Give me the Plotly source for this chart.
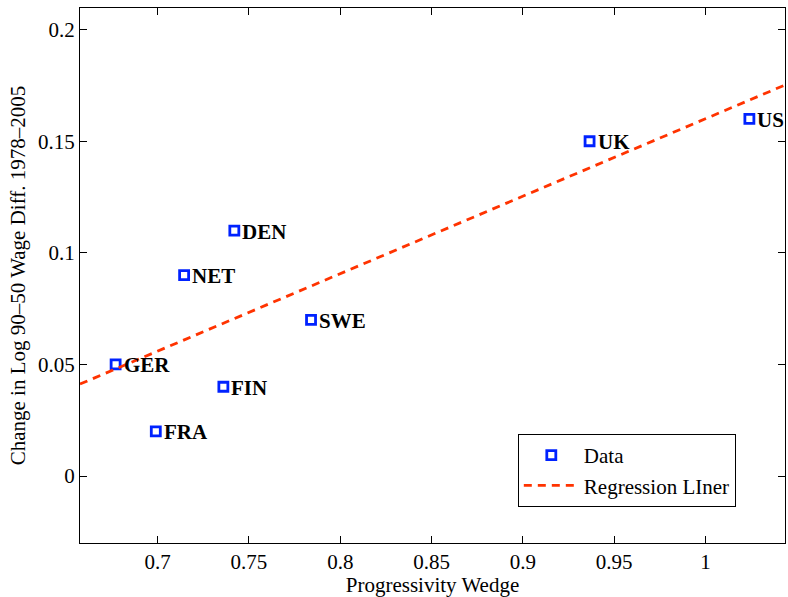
import plotly.graph_objects as go

countries = ["GER", "FRA", "NET", "FIN", "DEN", "SWE", "UK", "US"]
wedge = [0.677, 0.699, 0.7145, 0.736, 0.742, 0.784, 0.9365, 1.024]
wage_change = [0.05, 0.02, 0.09, 0.04, 0.11, 0.07, 0.15, 0.16]

reg_x = [0.6575, 1.0435]
reg_y = [0.0412, 0.1752]

x_ticks = [0.7, 0.75, 0.8, 0.85, 0.9, 0.95, 1.0]
x_ticktext = ["0.7", "0.75", "0.8", "0.85", "0.9", "0.95", "1"]
y_ticks = [0, 0.05, 0.1, 0.15, 0.2]
y_ticktext = ["0", "0.05", "0.1", "0.15", "0.2"]

FONT = "Liberation Serif"
FS = 21

fig = go.Figure()
fig.add_trace(go.Scatter(
    x=wedge, y=wage_change, mode="markers", name="Data",
    marker=dict(symbol="square-open", size=9, color="#0022ff",
                line=dict(width=2.8, color="#0022ff")),
))
fig.add_trace(go.Scatter(
    x=reg_x, y=reg_y, mode="lines", name="Regression LIner",
    line=dict(color="#ff3300", width=2.8, dash="8px,6px"),
))

for c, xv, yv in zip(countries, wedge, wage_change):
    fig.add_annotation(x=xv, y=yv, text=c, showarrow=False,
                       xanchor="left", yanchor="middle", xshift=6, yshift=-1,
                       font=dict(family=FONT, size=FS, color="black", weight="bold"))

axis_common = dict(
    showgrid=False, zeroline=False, showline=True, linecolor="black",
    linewidth=1.2, mirror="ticks", ticks="inside", ticklen=7,
    tickcolor="black", tickfont=dict(family=FONT, size=FS, color="black"),
)
fig.update_xaxes(range=[0.6575, 1.0435], tickvals=x_ticks, ticktext=x_ticktext,
                 title=dict(text="Progressivity Wedge", standoff=0,
                            font=dict(family=FONT, size=FS, color="black")),
                 **axis_common)
fig.update_yaxes(range=[-0.03, 0.2097], tickvals=y_ticks, ticktext=y_ticktext,
                 title=dict(text="Change in Log 90–50 Wage Diff. 1978–2005", standoff=6,
                            font=dict(family=FONT, size=FS, color="black")),
                 **axis_common)

fig.update_layout(
    width=788, height=597,
    margin=dict(l=80, r=3, t=8, b=54),
    plot_bgcolor="white", paper_bgcolor="white",
    font=dict(family=FONT, size=FS, color="black"),
    legend=dict(x=0.621, y=0.2037, xanchor="left", yanchor="top",
                bgcolor="white", bordercolor="black", borderwidth=1,
                font=dict(family=FONT, size=FS, color="black"),
                itemwidth=55, tracegroupgap=2),
)

fig.write_html("out.html")
